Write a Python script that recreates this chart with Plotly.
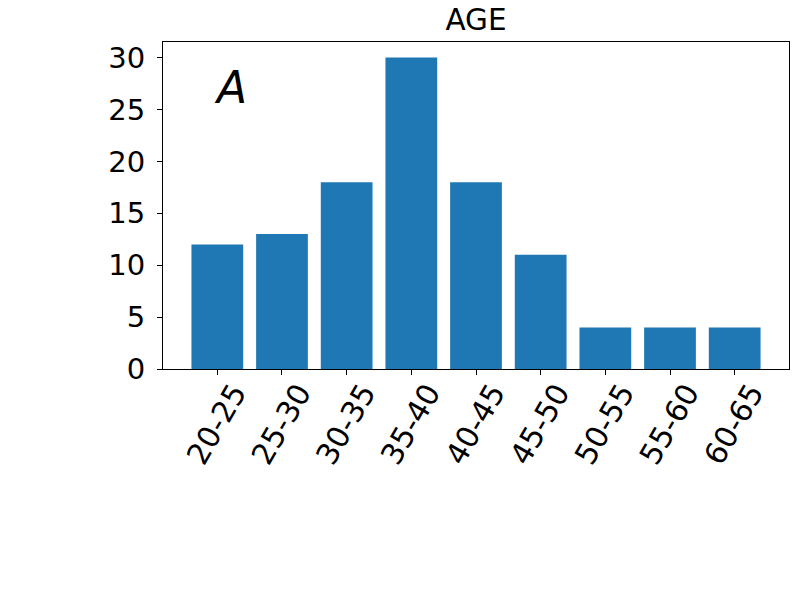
import plotly.graph_objects as go

categories = ["20-25", "25-30", "30-35", "35-40", "40-45", "45-50", "50-55", "55-60", "60-65"]
counts = [12, 13, 18, 30, 18, 11, 4, 4, 4]
y_ticks = [0, 5, 10, 15, 20, 25, 30]

FONT = "DejaVu Sans"

fig = go.Figure()
fig.add_trace(go.Bar(x=categories, y=counts, marker=dict(color="#1f77b4", line=dict(width=0)),
                     width=0.8))

fig.update_layout(
    template="none",
    width=793, height=594,
    margin=dict(l=163, r=4, t=42, b=225, autoexpand=False),
    plot_bgcolor="white", paper_bgcolor="white",
    showlegend=False,
    font=dict(family=FONT, size=29, color="black"),
    title=dict(text="AGE", x=0.5, xref="paper", xanchor="center",
               y=1 - 20 / 594, yref="container", yanchor="middle",
               font=dict(family=FONT, size=29.5, color="black")),
)
fig.update_xaxes(
    type="category", range=[-0.84, 8.84], automargin=False,
    showline=True, linecolor="black", linewidth=1.2, mirror=True,
    ticks="outside", ticklen=5, tickwidth=1.2, tickcolor="black",
    tickangle=-60, ticklabelshift=17, ticklabelstandoff=-12,
    tickfont=dict(family=FONT, size=30, color="black"),
    showgrid=False, zeroline=False,
)
fig.update_yaxes(
    range=[0, 31.5], tickvals=y_ticks, automargin=False,
    showline=True, linecolor="black", linewidth=1.2, mirror=True,
    ticks="outside", ticklen=5, tickwidth=1.2, tickcolor="black",
    ticklabelstandoff=6,
    tickfont=dict(family=FONT, size=29, color="black"),
    showgrid=False, zeroline=False,
)
fig.add_annotation(x=0.2, y=27.1, xref="x", yref="y", text="<i>A</i>", showarrow=False,
                   font=dict(family=FONT, size=44, color="black"),
                   xanchor="center", yanchor="middle")

fig.write_html("out.html", config={"displayModeBar": False},
               post_script="document.body.style.margin='0';document.body.style.overflow='hidden';")
